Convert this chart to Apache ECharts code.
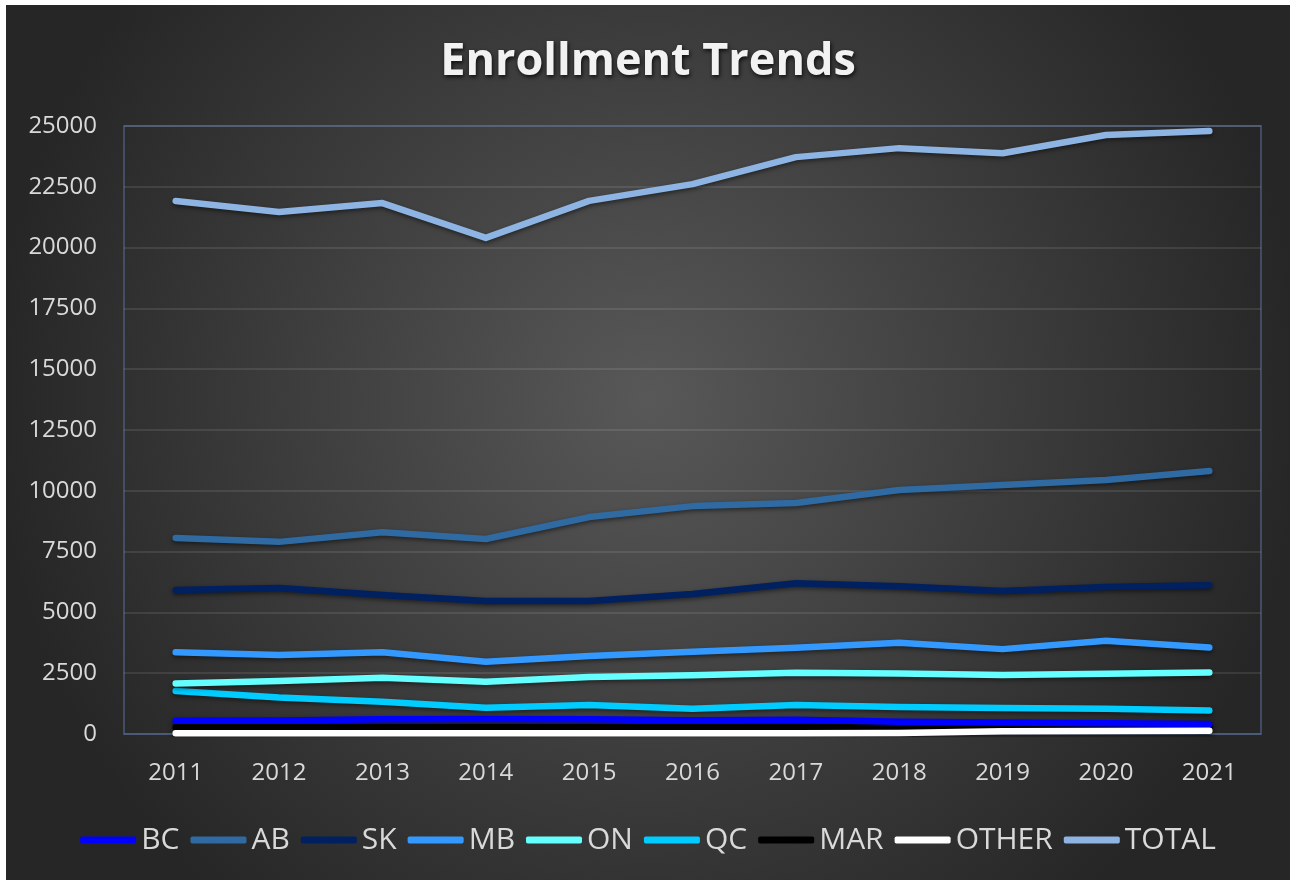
<!DOCTYPE html>
<html>
<head>
<meta charset="utf-8">
<script src="https://cdn.jsdelivr.net/npm/echarts@6/dist/echarts.min.js"></script>
<style>
html,body{margin:0;padding:0;background:#ffffff;width:1290px;height:880px;overflow:hidden;}
#chart{position:absolute;left:6px;top:5px;width:1284px;height:875px;}
</style>
</head>
<body>
<div id="chart"></div>
<script>
const years = ['2011','2012','2013','2014','2015','2016','2017','2018','2019','2020','2021'];
const BC    = [540, 560, 610, 620, 610, 570, 590, 500, 470, 440, 410];
const AB    = [8060, 7900, 8300, 8020, 8920, 9370, 9500, 10030, 10240, 10440, 10810];
const SK    = [5920, 6000, 5720, 5470, 5470, 5760, 6200, 6080, 5880, 6040, 6120];
const MB    = [3360, 3250, 3360, 2970, 3210, 3380, 3550, 3750, 3490, 3830, 3560];
const ON    = [2080, 2180, 2310, 2150, 2340, 2420, 2520, 2490, 2430, 2480, 2530];
const QC    = [1770, 1500, 1330, 1080, 1190, 1040, 1190, 1110, 1070, 1040, 970];
const MAR   = [280, 280, 290, 290, 290, 290, 290, 290, 300, 310, 320];
const OTHER = [30, 30, 30, 30, 30, 30, 30, 40, 110, 120, 130];
const TOTAL = [21920, 21460, 21830, 20400, 21920, 22610, 23720, 24090, 23880, 24630, 24790];
const yTicks = [0, 2500, 5000, 7500, 10000, 12500, 15000, 17500, 20000, 22500, 25000];

const seriesDefs = [
  ['BC', BC, '#0000ff'],
  ['AB', AB, '#2f6aa3'],
  ['SK', SK, '#002060'],
  ['MB', MB, '#3399ff'],
  ['ON', ON, '#66ffff'],
  ['QC', QC, '#00ccff'],
  ['MAR', MAR, '#000000'],
  ['OTHER', OTHER, '#ffffff'],
  ['TOTAL', TOTAL, '#8eb4e3']
];

const chart = echarts.init(document.getElementById('chart'));
const drawOrder = ['MAR','BC','OTHER','QC','ON','MB','SK','AB','TOTAL'];
const series = seriesDefs.map(([name, data, color]) => ({
  name: name,
  type: 'line',
  data: data,
  symbol: 'none',
  z: 5 + drawOrder.indexOf(name),
  color: color,
  lineStyle: {
    width: 6.5,
    color: color,
    cap: 'round',
    join: 'round',
    shadowColor: 'rgba(0,0,0,0.5)',
    shadowBlur: 4,
    shadowOffsetY: 2
  },
  emphasis: {disabled: true},
  animation: false
}));

chart.setOption({
  backgroundColor: new echarts.graphic.RadialGradient(0.5, 0.45, 0.75, [
    {offset: 0, color: '#585858'},
    {offset: 1, color: '#262626'}
  ]),
  animation: false,
  title: {
    text: 'Enrollment Trends',
    left: 'center',
    top: 30,
    textStyle: {
      fontFamily: 'Open Sans',
      fontWeight: 'bold',
      fontSize: 45,
      color: '#f2f2f2',
      textShadowColor: 'rgba(0,0,0,0.8)',
      textShadowBlur: 4,
      textShadowOffsetX: 1,
      textShadowOffsetY: 2
    }
  },
  legend: {
    bottom: 20,
    left: 'center',
    icon: 'roundRect',
    itemWidth: 56,
    itemHeight: 7,
    itemGap: 11,
    textStyle: {
      fontFamily: 'Open Sans',
      fontSize: 30,
      color: '#d9d9d9'
    },
    data: seriesDefs.map(d => d[0])
  },
  grid: {
    left: 118,
    right: 29,
    top: 121,
    bottom: 146,
    show: true,
    borderColor: '#4a5a78',
    borderWidth: 1.5,
    containLabel: false
  },
  xAxis: {
    type: 'category',
    data: years,
    boundaryGap: true,
    z: 0,
    axisLine: {show: true, lineStyle: {color: '#4a5a78', width: 1.5}},
    axisTick: {show: false},
    axisLabel: {
      fontFamily: 'Open Sans',
      fontSize: 24,
      color: '#d9d9d9',
      margin: 27
    }
  },
  yAxis: {
    type: 'value',
    min: 0,
    max: 25000,
    interval: 2500,
    z: 0,
    axisLine: {show: false},
    axisTick: {show: false},
    splitLine: {lineStyle: {color: 'rgba(255,255,255,0.13)', width: 1.5}},
    axisLabel: {
      fontFamily: 'Open Sans',
      fontSize: 24,
      color: '#d9d9d9',
      margin: 27,
      formatter: v => yTicks.includes(v) ? String(v) : ''
    }
  },
  series: series
});
</script>
</body>
</html>
